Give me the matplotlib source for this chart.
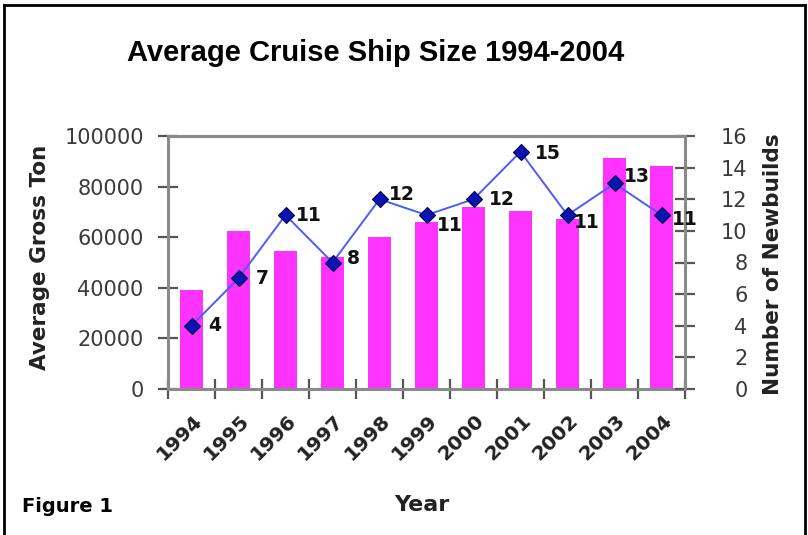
import matplotlib
matplotlib.use("Agg")
import matplotlib.pyplot as plt
import matplotlib.transforms as mtransforms
from matplotlib.lines import Line2D

years = ["1994", "1995", "1996", "1997", "1998", "1999", "2000", "2001", "2002", "2003", "2004"]
avg_gross_ton = [39000, 62500, 54500, 52000, 60000, 66000, 72000, 70500, 67000, 91500, 88000]
newbuilds = [4, 7, 11, 8, 12, 11, 12, 15, 11, 13, 11]
# label offsets (pixels) for the point labels
label_dx = [23, 24, 23, 21, 22, 23, 28, 27, 19, 22, 23]
label_dy = [0, 0, 0, 4, 5, -10, 0, -2, -7, 7, -4]

W, H = 808, 535
fig = plt.figure(figsize=(W / 100, H / 100), dpi=100)
fig.patch.set_facecolor("white")

# frame around figure
fig.add_artist(Line2D([4 / W, 4 / W], [0, 1 - 5 / H], transform=fig.transFigure, color="black", lw=2))
fig.add_artist(Line2D([4 / W, 805 / W], [1 - 5 / H, 1 - 5 / H], transform=fig.transFigure, color="black", lw=2))
fig.add_artist(Line2D([805 / W, 805 / W], [0, 1 - 5 / H], transform=fig.transFigure, color="black", lw=2))

left, right, top, bottom = 168, 685, 136, 389
ax = fig.add_axes([left / W, 1 - bottom / H, (right - left) / W, (bottom - top) / H])
ax2 = ax.twinx()

x = list(range(len(years)))
gray = "#8a8a8a"
ax.bar(x, avg_gross_ton, width=0.48, color="#ff33ff", zorder=2)
ax.set_xlim(-0.5, len(years) - 0.5)
ax.set_ylim(0, 100000)
ax.set_yticks([0, 20000, 40000, 60000, 80000, 100000])
ax.set_yticklabels(["0", "20000", "40000", "60000", "80000", "100000"])

ax2.plot(x, newbuilds, color="#4a5cff", lw=1.4, marker="D", markersize=8,
         markerfacecolor="#0a14b4", markeredgecolor="#000040", markeredgewidth=0.8, zorder=5)
ax2.set_ylim(0, 16)
ax2.set_yticks(range(0, 17, 2))

for i, v in enumerate(newbuilds):
    off = mtransforms.offset_copy(ax2.transData, fig=fig, x=label_dx[i] * 0.72, y=label_dy[i] * 0.72, units="points")
    ax2.text(i, v, str(v), transform=off, ha="center", va="center",
             fontsize=13.5, fontweight="bold", color="#111111", family="DejaVu Sans")

for a in (ax, ax2):
    for s in a.spines.values():
        s.set_color(gray)
        s.set_linewidth(2.2)
ax.spines["right"].set_visible(False)
ax2.spines["left"].set_visible(False)
ax2.spines["bottom"].set_visible(False)

# x ticks at category boundaries, labels at centers
ax.set_xticks([i - 0.5 for i in range(len(years) + 1)])
ax.set_xticklabels([])
ax.set_xticks(x, minor=True)
ax.set_xticklabels(years, minor=True, rotation=45, ha="right", va="top",
                   fontsize=14.5, fontweight="bold", color="#222222", family="DejaVu Sans")
ax.tick_params(axis="x", which="major", direction="inout", length=14, width=1.6, color="#555555")
ax.tick_params(axis="x", which="minor", length=0, pad=16)
for lab in ax.get_xticklabels(minor=True):
    lab.set_transform(lab.get_transform() + mtransforms.ScaledTranslation(14 / 100, 0, fig.dpi_scale_trans))

ax.tick_params(axis="y", direction="inout", length=14, width=1.6, color="#555555", pad=10.5,
               labelsize=15, labelcolor="#3a3a3a")
ax2.tick_params(axis="y", direction="inout", length=14, width=1.6, color="#555555", pad=38,
                labelsize=15, labelcolor="#3a3a3a")
for lab in ax2.get_yticklabels():
    lab.set_horizontalalignment("right")

ax.set_zorder(1)
ax2.set_zorder(2)
ax2.patch.set_visible(False)

fig.text(376 / W, 1 - 53 / H, "Average Cruise Ship Size 1994-2004", ha="center", va="center",
         fontsize=21, fontweight="bold", family="Liberation Sans", color="black")
fig.text(40 / W, 1 - 257 / H, "Average Gross Ton", rotation=90, ha="center", va="center",
         fontsize=15.5, fontweight="bold", color="#222222", family="DejaVu Sans")
fig.text(773 / W, 1 - 264 / H, "Number of Newbuilds", rotation=90, ha="center", va="center",
         fontsize=15.5, fontweight="bold", color="#222222", family="DejaVu Sans")
fig.text(422 / W, 1 - 505 / H, "Year", ha="center", va="center",
         fontsize=16, fontweight="bold", color="#222222", family="DejaVu Sans")
fig.text(22 / W, 1 - 507 / H, "Figure 1", ha="left", va="center",
         fontsize=14, fontweight="heavy", color="black", family="DejaVu Sans")

fig.savefig("out.png", dpi=100, facecolor="white")
